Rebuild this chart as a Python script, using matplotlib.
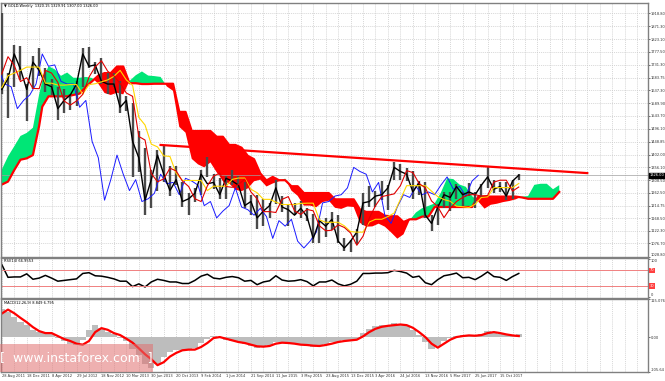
import numpy as np
import matplotlib.pyplot as plt
import matplotlib.transforms as mtransforms
from matplotlib.patches import Rectangle

# -------------------------------
# DATA (weekly GOLD, sampled every 4 weeks; week 0 = 28 Aug 2011)
# -------------------------------

weeks = list(range(0, 333, 4))

price_high = [1921, 1700, 1803, 1800, 1660, 1764, 1790, 1720, 1680, 1650,
              1640, 1625, 1670, 1790, 1796, 1740, 1755, 1700, 1700, 1670,
              1615, 1590, 1487, 1425, 1345, 1420, 1434, 1360, 1360, 1300,
              1260, 1280, 1345, 1392, 1330, 1315, 1325, 1345, 1325, 1300,
              1255, 1255, 1240, 1225, 1307, 1250, 1220, 1225, 1232, 1205,
              1185, 1170, 1170, 1190, 1180, 1095, 1090, 1130, 1263, 1285,
              1270, 1305, 1290, 1375, 1368, 1352, 1340, 1305, 1300, 1180,
              1220, 1265, 1265, 1295, 1265, 1296, 1265, 1295, 1357, 1310,
              1300, 1300, 1310, 1330]
price_low = [1625, 1535, 1650, 1675, 1523, 1640, 1690, 1630, 1620, 1527,
             1555, 1565, 1580, 1650, 1720, 1695, 1660, 1625, 1650, 1555,
             1560, 1321, 1338, 1180, 1207, 1270, 1300, 1250, 1290, 1210,
             1180, 1230, 1255, 1320, 1277, 1240, 1240, 1290, 1280, 1205,
             1180, 1131, 1140, 1170, 1220, 1190, 1142, 1180, 1170, 1160,
             1077, 1080, 1100, 1125, 1080, 1050, 1046, 1075, 1145, 1210,
             1210, 1235, 1200, 1310, 1310, 1305, 1240, 1255, 1170, 1122,
             1145, 1205, 1195, 1240, 1215, 1250, 1205, 1245, 1280, 1260,
             1265, 1236, 1240, 1307]
price_close = [1640, 1680, 1770, 1715, 1640, 1740, 1710, 1660, 1650, 1570,
               1600, 1620, 1660, 1770, 1725, 1730, 1670, 1660, 1660, 1575,
               1600, 1450, 1390, 1235, 1310, 1400, 1330, 1270, 1310, 1230,
               1240, 1260, 1330, 1295, 1300, 1255, 1315, 1305, 1290, 1215,
               1230, 1170, 1195, 1215, 1280, 1210, 1200, 1180, 1205, 1175,
               1095, 1160, 1140, 1165, 1085, 1060, 1085, 1118, 1225, 1230,
               1250, 1255, 1280, 1355, 1340, 1330, 1265, 1300, 1180, 1150,
               1210, 1255, 1245, 1285, 1255, 1265, 1255, 1290, 1320, 1275,
               1285, 1250, 1305, 1326]

tenkan = [1697, 1760, 1728, 1669, 1683, 1644, 1643, 1710, 1700, 1666,
          1598, 1583, 1598, 1622, 1685, 1723, 1745, 1707, 1690, 1662,
          1627, 1615, 1468, 1455, 1333, 1302, 1313, 1352, 1342, 1305,
          1285, 1240, 1230, 1287, 1323, 1334, 1285, 1282, 1292, 1312,
          1265, 1240, 1193, 1193, 1190, 1238, 1248, 1196, 1183, 1201,
          1196, 1141, 1123, 1125, 1145, 1135, 1115, 1070, 1103, 1169,
          1215, 1248, 1253, 1258, 1288, 1343, 1336, 1296, 1280, 1232,
          1211, 1171, 1205, 1230, 1245, 1255, 1255, 1250, 1252, 1301,
          1308, 1308, 1268, 1283]
kijun = [1647, 1690, 1700, 1710, 1722, 1722, 1722, 1663, 1663, 1656,
         1656, 1658, 1658, 1623, 1658, 1661, 1668, 1675, 1688, 1710,
         1675, 1655, 1538, 1510, 1440, 1430, 1397, 1395, 1333, 1307,
         1307, 1307, 1307, 1270, 1286, 1286, 1286, 1311, 1316, 1316,
         1275, 1262, 1238, 1238, 1228, 1219, 1219, 1219, 1223, 1224,
         1224, 1163, 1154, 1154, 1154, 1141, 1120, 1118, 1118, 1155,
         1165, 1165, 1175, 1188, 1238, 1288, 1288, 1288, 1288, 1268,
         1248, 1237, 1231, 1213, 1211, 1208, 1220, 1245, 1247, 1281,
         1281, 1281, 1281, 1296]

# cloud (senkou spans, already shifted 26 weeks ahead)
cloud_weeks = [0, 4, 8, 12, 16, 20, 24] + list(range(26, 359, 4))
span_a = [1347, 1395, 1432, 1470, 1481, 1500, 1622,
          1672, 1725, 1714, 1690, 1702, 1683, 1683, 1686, 1682, 1661,
          1627, 1620, 1628, 1622, 1671, 1692, 1706, 1691, 1689, 1686,
          1651, 1635, 1503, 1482, 1386, 1366, 1355, 1373, 1337, 1306,
          1296, 1273, 1268, 1278, 1304, 1310, 1285, 1296, 1304, 1314,
          1270, 1251, 1215, 1215, 1209, 1228, 1233, 1207, 1203, 1212,
          1210, 1152, 1138, 1139, 1149, 1138, 1117, 1094, 1110, 1162,
          1190, 1206, 1214, 1223, 1263, 1315, 1312, 1292, 1284, 1250,
          1230, 1204, 1218, 1222, 1228, 1232, 1238, 1248, 1250, 1291,
          1295, 1295, 1275, 1290]
span_b = [1292, 1303, 1345, 1383, 1388, 1400, 1507,
          1577, 1615, 1615, 1615, 1615, 1620, 1625, 1650, 1670, 1691,
          1700, 1700, 1724, 1724, 1663, 1663, 1660, 1660, 1661, 1661,
          1661, 1661, 1558, 1558, 1488, 1488, 1488, 1488, 1467, 1467,
          1437, 1437, 1427, 1397, 1385, 1333, 1307, 1320, 1308, 1308,
          1286, 1286, 1261, 1261, 1261, 1261, 1261, 1238, 1238, 1238,
          1238, 1201, 1192, 1192, 1192, 1178, 1176, 1176, 1155, 1165,
          1165, 1175, 1175, 1210, 1210, 1210, 1210, 1210, 1210, 1210,
          1248, 1248, 1248, 1248, 1248, 1248, 1248, 1245, 1240, 1240,
          1240, 1240, 1240, 1265]

trend_weeks = [102, 376]
trend_price = [1437, 1334]

rsi = [85, 52, 53, 53, 61, 47, 50, 57, 50, 42,
       44, 46, 48, 62, 64, 56, 55, 52, 48, 42,
       42, 28, 35, 27, 40, 47, 44, 40, 40, 36,
       36, 44, 55, 60, 50, 48, 52, 54, 51, 42,
       44, 33, 40, 43, 56, 45, 42, 43, 46, 41,
       30, 40, 40, 45, 35, 30, 34, 42, 62, 62,
       63, 63, 64, 70, 67, 63, 52, 55, 38, 33,
       46, 56, 59, 63, 51, 52, 46, 55, 66, 54,
       52, 44, 54, 62]

macd_main = [85, 75, 60, 45, 35, 22, 15, 12, 8, -3,
             -12, -20, -25, -10, 20, 35, 28, 15, 8, -2,
             -12, -35, -55, -80, -95, -80, -60, -45, -38, -38,
             -40, -32, -18, -5, 2, -2, -8, -12, -16, -22,
             -28, -32, -30, -25, -15, -15, -20, -22, -24, -26,
             -30, -26, -22, -16, -14, -10, -9, -5, 12, 24,
             32, 35, 37, 42, 40, 32, 20, 5, -15, -35,
             -28, -12, -2, 4, 5, 6, 3, 8, 17, 14,
             10, 5, 4, 9]
macd_signal = [71, 83, 72, 58, 45, 30, 18, 12, 12, 3,
               -6, -12, -20, -23, -12, 15, 27, 22, 12, 6,
               -5, -17, -34, -52, -67, -85, -76, -59, -48, -40,
               -38, -38, -30, -18, -3, 0, -5, -10, -15, -18,
               -23, -28, -29, -27, -20, -17, -18, -20, -23, -24,
               -26, -27, -24, -20, -15, -12, -10, -8, 2, 15,
               25, 31, 34, 36, 38, 36, 28, 15, 0, -20,
               -32, -20, -8, 0, 3, 5, 4, 6, 12, 15,
               12, 8, 5, 3]

price_ticks = [1918.80, 1871.30, 1823.10, 1777.50, 1731.30, 1683.75, 1637.30,
               1589.90, 1543.70, 1496.10, 1448.85, 1402.00, 1356.10, 1308.50,
               1262.50, 1214.75, 1168.50, 1122.30, 1076.70, 1028.80]
date_weeks = list(range(0, 321, 16))
date_labels = ['28 Aug 2011', '18 Dec 2011', '8 Apr 2012', '29 Jul 2012',
               '18 Nov 2012', '10 Mar 2013', '30 Jun 2013', '20 Oct 2013',
               '9 Feb 2014', '1 Jun 2014', '21 Sep 2014', '11 Jan 2015',
               '3 May 2015', '23 Aug 2015', '13 Dec 2015', '3 Apr 2016',
               '24 Jul 2016', '13 Nov 2016', '5 Mar 2017', '25 Jun 2017',
               '15 Oct 2017']
last_price = 1326.00

# -------------------------------
# FIGURE
# -------------------------------

W, H = 665, 381
FS = 2.6
fig = plt.figure(figsize=(W / 100, H / 100), dpi=100)


def panel(x0, y0, x1, y1):
    a = fig.add_axes([x0 / W, 1 - y1 / H, (x1 - x0) / W, (y1 - y0) / H])
    for s in a.spines.values():
        s.set_color('#808080')
        s.set_linewidth(1.0)
    a.yaxis.tick_right()
    a.tick_params(axis='y', length=1.5, width=0.5, labelsize=FS, pad=0.5,
                  colors='#333333')
    a.tick_params(axis='x', length=0)
    a.set_xlim(-0.5, 415)
    for gx in np.arange(0, 415, 8):
        a.axvline(gx, color='#c8c8c8', lw=0.5, ls=(0, (1.5, 1.5)), zorder=0)
    return a


ax = panel(1, 3, 648, 257)
ax_rsi = panel(1, 258, 648, 298)
ax_macd = panel(1, 299, 648, 372)

# ---- main price panel ----
ax.set_ylim(1027, 1956.5)
ax.set_yticks(price_ticks)
ax.set_yticklabels(['%.2f' % v for v in price_ticks])
ax.get_yticklabels()[-1].set_va('bottom')
for v in price_ticks:
    ax.axhline(v, color='#c8c8c8', lw=0.5, ls=(0, (1.5, 1.5)), zorder=0)
ax.set_xticks([])

sa = np.array(span_a)
sb = np.array(span_b)
ax.fill_between(cloud_weeks, sa, sb, where=sa >= sb, interpolate=True,
                color='#00e676', lw=0, zorder=1)
ax.fill_between(cloud_weeks, sa, sb, where=sa < sb, interpolate=True,
                color='#ff0000', lw=0, zorder=1)
ax.plot(cloud_weeks, span_b, color='#ff0000', lw=1.6, zorder=2)

# price bars: high-low ranges plus closing line
ax.vlines(weeks, price_low, price_high, color='#4a4a4a', lw=1.7, zorder=3)
ax.plot(weeks, price_close, color='black', lw=1.0, zorder=4)

ax.plot(np.array(weeks) - 26, price_close, color='#1a1aff', lw=0.7, zorder=3)
ax.plot(weeks, kijun, color='#ffd700', lw=0.8, zorder=5)
ax.plot(weeks, tenkan, color='#e00000', lw=0.8, zorder=5)

ax.plot(trend_weeks, trend_price, color='#ff0000', lw=1.6, zorder=6)
ax.axhline(last_price, color='#a0a0a0', lw=0.5, zorder=1)

tr = mtransforms.blended_transform_factory(ax.transAxes, ax.transData)
ax.text(1.002, last_price, '%.2f' % last_price, transform=tr, fontsize=FS,
        color='white', va='center', ha='left',
        bbox=dict(boxstyle='square,pad=0.15', fc='black', ec='black'))
ax.text(0.004, 0.995, '\u25bc GOLD,Weekly  1320.15 1329.91 1307.00 1326.00',
        transform=ax.transAxes, fontsize=FS, va='top', ha='left')

# ---- RSI panel ----
ax_rsi.set_ylim(-1.5, 102)
ax_rsi.plot(weeks, rsi, color='black', lw=1.1)
ax_rsi.axhline(70, color='#f08080', lw=0.7)
ax_rsi.axhline(30, color='#f08080', lw=0.7)
ax_rsi.set_yticks([100, 0])
ax_rsi.set_yticklabels(['100', '0'])
ax_rsi.get_yticklabels()[0].set_va('top')
ax_rsi.get_yticklabels()[1].set_va('bottom')
ax_rsi.set_xticks([])
tr = mtransforms.blended_transform_factory(ax_rsi.transAxes, ax_rsi.transData)
for lv in [70, 30]:
    ax_rsi.text(1.002, lv, str(lv), transform=tr, fontsize=FS, color='white',
                va='center', ha='left',
                bbox=dict(boxstyle='square,pad=0.2', fc='#ff4040', ec='none'))
ax_rsi.text(0.004, 0.97, 'RSI(14) 66.9553', transform=ax_rsi.transAxes,
            fontsize=FS, va='top', ha='left')

# ---- MACD panel ----
ax_macd.set_ylim(-105.64, 115.07)
ax_macd.bar(weeks, macd_main, width=4, color='#bdbdbd', lw=0)
ax_macd.plot(weeks, macd_signal, color='#ff0000', lw=1.6)
ax_macd.set_yticks([115.07, 0, -105.64])
ax_macd.set_yticklabels(['115.076', '0.00', '-105.64'])
ax_macd.get_yticklabels()[0].set_va('top')
ax_macd.get_yticklabels()[2].set_va('bottom')
ax_macd.set_xticks(date_weeks)
ax_macd.set_xticklabels(date_labels, fontsize=FS, ha='left', color='#333333')
ax_macd.tick_params(axis='x', pad=1.5)
ax_macd.text(0.004, 0.97, 'MACD(12,26,9) 8.849 6.795',
             transform=ax_macd.transAxes, fontsize=FS, va='top', ha='left')

# watermark
fig.patches.append(Rectangle((0, 1 - 372 / H), 153 / W, 28 / H,
                             transform=fig.transFigure, fc='#e07070',
                             alpha=0.55, ec='none', zorder=10))
fig.text(76 / W, 1 - 358 / H, '[  www.instaforex.com  ]', color='white',
         fontsize=9, ha='center', va='center', zorder=11)

fig.savefig('out.png', dpi=100)
